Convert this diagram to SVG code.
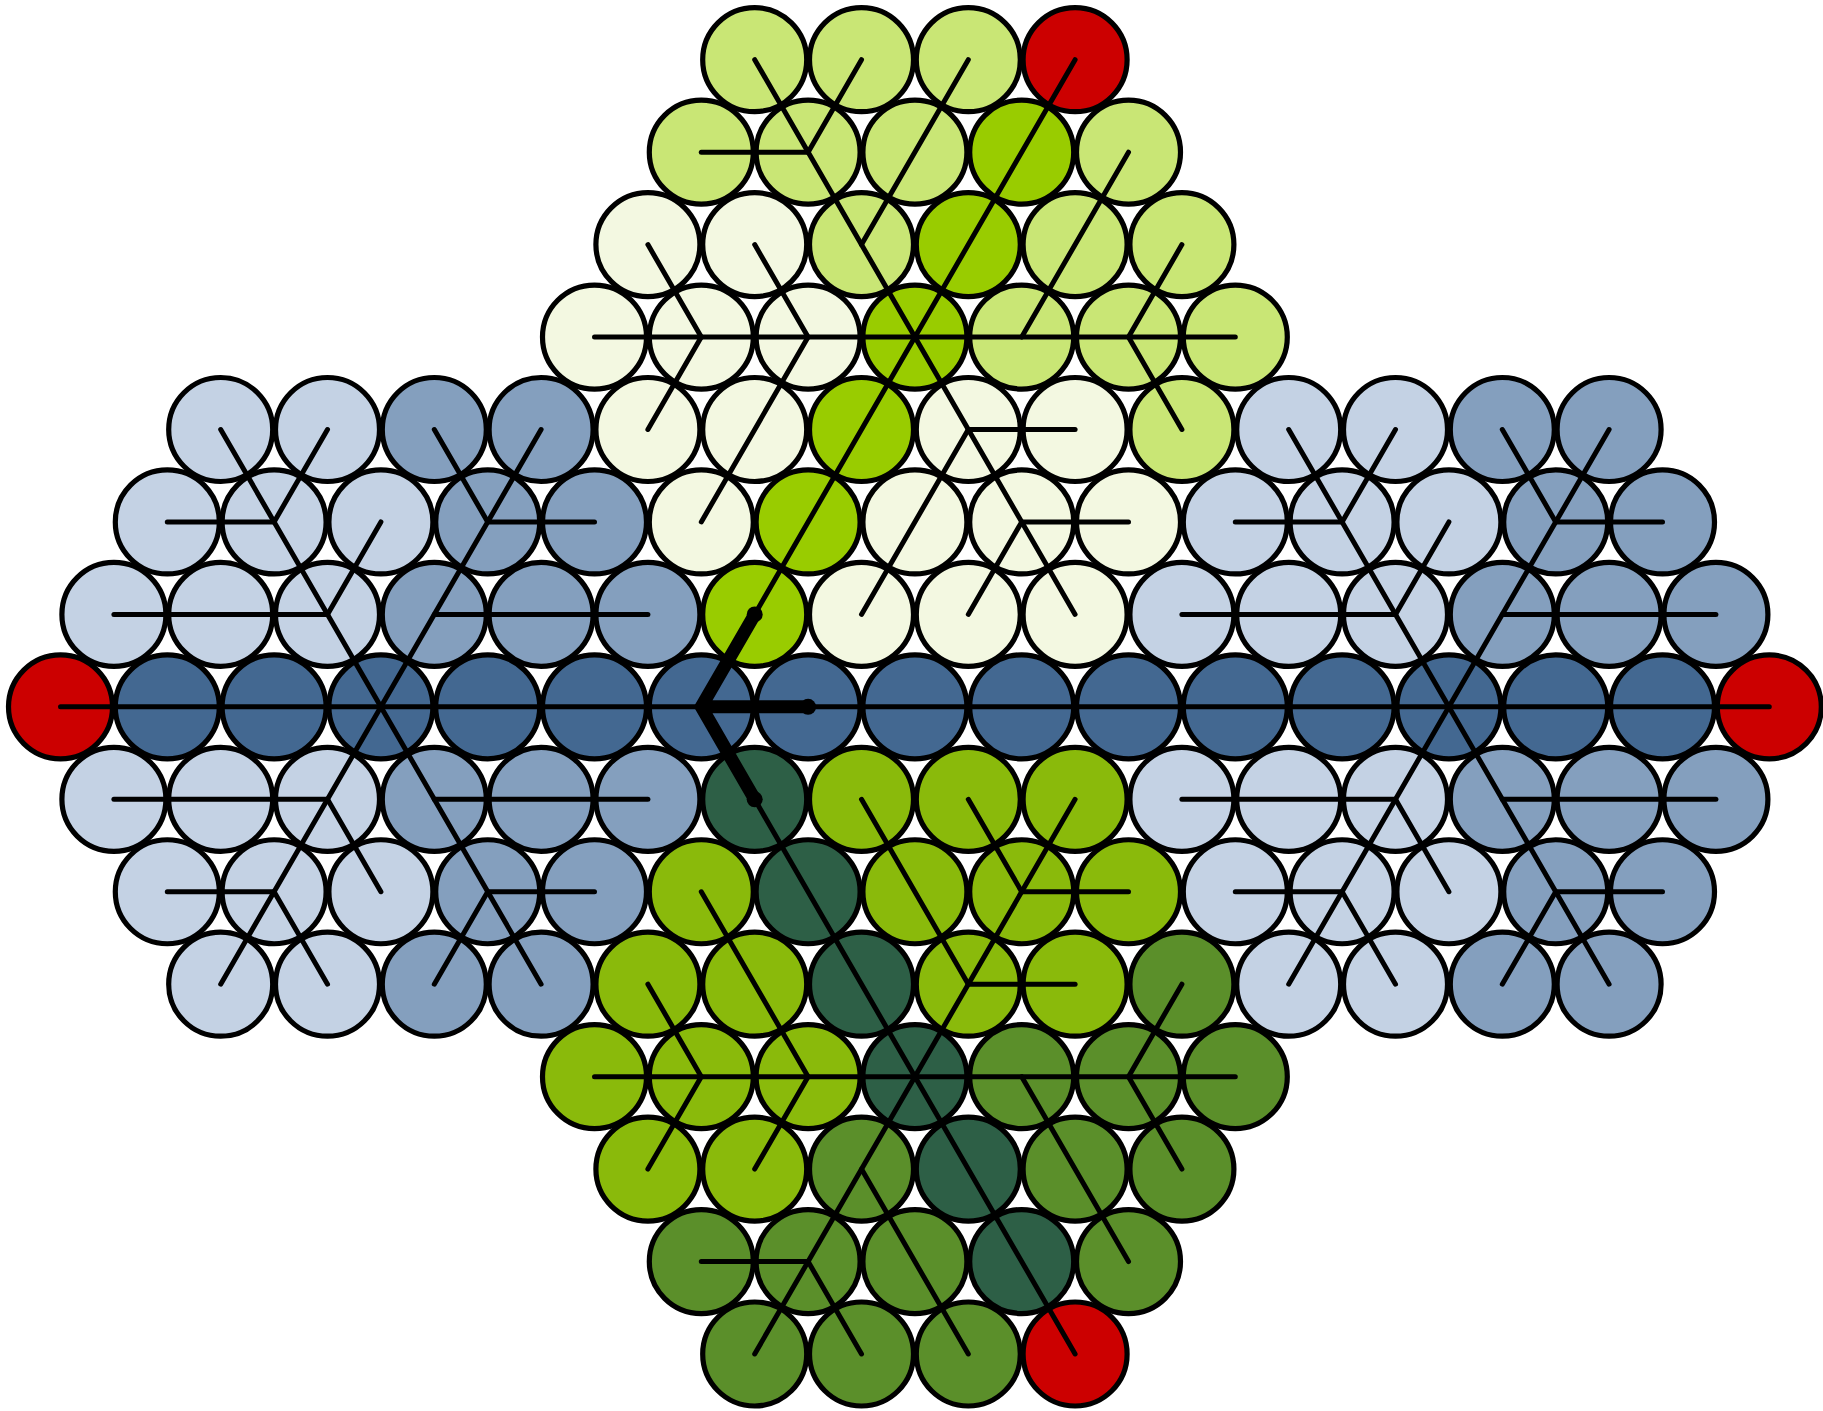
<svg xmlns="http://www.w3.org/2000/svg" width="1823" height="1411" viewBox="0 0 1823 1411">
<style>
.nodes circle{stroke:#000;stroke-width:5.2}
.red{fill:#cc0000}.lg{fill:#c9e675}.bg{fill:#99cc00}.pg{fill:#f3f8e1}
.yg{fill:#8aba0b}.og{fill:#5b8f2a}.dg{fill:#2d5f46}
.lb{fill:#c4d2e4}.mb{fill:#849fbe}.db{fill:#436891}
.conn line{stroke:#000;stroke-width:5;stroke-linecap:round}
.thick{fill:none;stroke:#000;stroke-width:13;stroke-linecap:round;stroke-linejoin:miter}
</style>
<rect width="1823" height="1411" fill="#fff"/>
<g class="nodes">
<!-- top hexagon -->
<g id="t13-0"><circle class="lg" cx="754.7" cy="59.7" r="52"/></g>
<g id="t15-0"><circle class="lg" cx="861.5" cy="59.7" r="52"/></g>
<g id="t17-0"><circle class="lg" cx="968.3" cy="59.7" r="52"/></g>
<g id="t19-0"><circle class="red" cx="1075.1" cy="59.7" r="52"/></g>
<g id="t12-1"><circle class="lg" cx="701.3" cy="152.15" r="52"/></g>
<g id="t14-1"><circle class="lg" cx="808.1" cy="152.15" r="52"/></g>
<g id="t16-1"><circle class="lg" cx="914.9" cy="152.15" r="52"/></g>
<g id="t18-1"><circle class="bg" cx="1021.7" cy="152.15" r="52"/></g>
<g id="t20-1"><circle class="lg" cx="1128.5" cy="152.15" r="52"/></g>
<g id="t11-2"><circle class="pg" cx="647.9" cy="244.6" r="52"/></g>
<g id="t13-2"><circle class="pg" cx="754.7" cy="244.6" r="52"/></g>
<g id="t15-2"><circle class="lg" cx="861.5" cy="244.6" r="52"/></g>
<g id="t17-2"><circle class="bg" cx="968.3" cy="244.6" r="52"/></g>
<g id="t19-2"><circle class="lg" cx="1075.1" cy="244.6" r="52"/></g>
<g id="t21-2"><circle class="lg" cx="1181.9" cy="244.6" r="52"/></g>
<g id="t10-3"><circle class="pg" cx="594.5" cy="337.05" r="52"/></g>
<g id="t12-3"><circle class="pg" cx="701.3" cy="337.05" r="52"/></g>
<g id="t14-3"><circle class="pg" cx="808.1" cy="337.05" r="52"/></g>
<g id="t16-3"><circle class="bg" cx="914.9" cy="337.05" r="52"/></g>
<g id="t18-3"><circle class="lg" cx="1021.7" cy="337.05" r="52"/></g>
<g id="t20-3"><circle class="lg" cx="1128.5" cy="337.05" r="52"/></g>
<g id="t22-3"><circle class="lg" cx="1235.3" cy="337.05" r="52"/></g>
<g id="t11-4"><circle class="pg" cx="647.9" cy="429.5" r="52"/></g>
<g id="t13-4"><circle class="pg" cx="754.7" cy="429.5" r="52"/></g>
<g id="t15-4"><circle class="bg" cx="861.5" cy="429.5" r="52"/></g>
<g id="t17-4"><circle class="pg" cx="968.3" cy="429.5" r="52"/></g>
<g id="t19-4"><circle class="pg" cx="1075.1" cy="429.5" r="52"/></g>
<g id="t21-4"><circle class="lg" cx="1181.9" cy="429.5" r="52"/></g>
<g id="t12-5"><circle class="pg" cx="701.3" cy="521.95" r="52"/></g>
<g id="t14-5"><circle class="bg" cx="808.1" cy="521.95" r="52"/></g>
<g id="t16-5"><circle class="pg" cx="914.9" cy="521.95" r="52"/></g>
<g id="t18-5"><circle class="pg" cx="1021.7" cy="521.95" r="52"/></g>
<g id="t20-5"><circle class="pg" cx="1128.5" cy="521.95" r="52"/></g>
<g id="t13-6"><circle class="bg" cx="754.7" cy="614.4" r="52"/></g>
<g id="t15-6"><circle class="pg" cx="861.5" cy="614.4" r="52"/></g>
<g id="t17-6"><circle class="pg" cx="968.3" cy="614.4" r="52"/></g>
<g id="t19-6"><circle class="pg" cx="1075.1" cy="614.4" r="52"/></g>
<!-- bottom hexagon -->
<g id="b13-8"><circle class="dg" cx="754.7" cy="799.3" r="52"/></g>
<g id="b15-8"><circle class="yg" cx="861.5" cy="799.3" r="52"/></g>
<g id="b17-8"><circle class="yg" cx="968.3" cy="799.3" r="52"/></g>
<g id="b19-8"><circle class="yg" cx="1075.1" cy="799.3" r="52"/></g>
<g id="b12-9"><circle class="yg" cx="701.3" cy="891.75" r="52"/></g>
<g id="b14-9"><circle class="dg" cx="808.1" cy="891.75" r="52"/></g>
<g id="b16-9"><circle class="yg" cx="914.9" cy="891.75" r="52"/></g>
<g id="b18-9"><circle class="yg" cx="1021.7" cy="891.75" r="52"/></g>
<g id="b20-9"><circle class="yg" cx="1128.5" cy="891.75" r="52"/></g>
<g id="b11-10"><circle class="yg" cx="647.9" cy="984.2" r="52"/></g>
<g id="b13-10"><circle class="yg" cx="754.7" cy="984.2" r="52"/></g>
<g id="b15-10"><circle class="dg" cx="861.5" cy="984.2" r="52"/></g>
<g id="b17-10"><circle class="yg" cx="968.3" cy="984.2" r="52"/></g>
<g id="b19-10"><circle class="yg" cx="1075.1" cy="984.2" r="52"/></g>
<g id="b21-10"><circle class="og" cx="1181.9" cy="984.2" r="52"/></g>
<g id="b10-11"><circle class="yg" cx="594.5" cy="1076.65" r="52"/></g>
<g id="b12-11"><circle class="yg" cx="701.3" cy="1076.65" r="52"/></g>
<g id="b14-11"><circle class="yg" cx="808.1" cy="1076.65" r="52"/></g>
<g id="b16-11"><circle class="dg" cx="914.9" cy="1076.65" r="52"/></g>
<g id="b18-11"><circle class="og" cx="1021.7" cy="1076.65" r="52"/></g>
<g id="b20-11"><circle class="og" cx="1128.5" cy="1076.65" r="52"/></g>
<g id="b22-11"><circle class="og" cx="1235.3" cy="1076.65" r="52"/></g>
<g id="b11-12"><circle class="yg" cx="647.9" cy="1169.1" r="52"/></g>
<g id="b13-12"><circle class="yg" cx="754.7" cy="1169.1" r="52"/></g>
<g id="b15-12"><circle class="og" cx="861.5" cy="1169.1" r="52"/></g>
<g id="b17-12"><circle class="dg" cx="968.3" cy="1169.1" r="52"/></g>
<g id="b19-12"><circle class="og" cx="1075.1" cy="1169.1" r="52"/></g>
<g id="b21-12"><circle class="og" cx="1181.9" cy="1169.1" r="52"/></g>
<g id="b12-13"><circle class="og" cx="701.3" cy="1261.55" r="52"/></g>
<g id="b14-13"><circle class="og" cx="808.1" cy="1261.55" r="52"/></g>
<g id="b16-13"><circle class="og" cx="914.9" cy="1261.55" r="52"/></g>
<g id="b18-13"><circle class="dg" cx="1021.7" cy="1261.55" r="52"/></g>
<g id="b20-13"><circle class="og" cx="1128.5" cy="1261.55" r="52"/></g>
<g id="b13-14"><circle class="og" cx="754.7" cy="1354" r="52"/></g>
<g id="b15-14"><circle class="og" cx="861.5" cy="1354" r="52"/></g>
<g id="b17-14"><circle class="og" cx="968.3" cy="1354" r="52"/></g>
<g id="b19-14"><circle class="red" cx="1075.1" cy="1354" r="52"/></g>
<!-- left hexagon -->
<g id="l3-4"><circle class="lb" cx="220.7" cy="429.5" r="52"/></g>
<g id="l5-4"><circle class="lb" cx="327.5" cy="429.5" r="52"/></g>
<g id="l7-4"><circle class="mb" cx="434.3" cy="429.5" r="52"/></g>
<g id="l9-4"><circle class="mb" cx="541.1" cy="429.5" r="52"/></g>
<g id="l2-5"><circle class="lb" cx="167.3" cy="521.95" r="52"/></g>
<g id="l4-5"><circle class="lb" cx="274.1" cy="521.95" r="52"/></g>
<g id="l6-5"><circle class="lb" cx="380.9" cy="521.95" r="52"/></g>
<g id="l8-5"><circle class="mb" cx="487.7" cy="521.95" r="52"/></g>
<g id="l10-5"><circle class="mb" cx="594.5" cy="521.95" r="52"/></g>
<g id="l1-6"><circle class="lb" cx="113.9" cy="614.4" r="52"/></g>
<g id="l3-6"><circle class="lb" cx="220.7" cy="614.4" r="52"/></g>
<g id="l5-6"><circle class="lb" cx="327.5" cy="614.4" r="52"/></g>
<g id="l7-6"><circle class="mb" cx="434.3" cy="614.4" r="52"/></g>
<g id="l9-6"><circle class="mb" cx="541.1" cy="614.4" r="52"/></g>
<g id="l11-6"><circle class="mb" cx="647.9" cy="614.4" r="52"/></g>
<g id="l0-7"><circle class="red" cx="60.5" cy="706.85" r="52"/></g>
<g id="l2-7"><circle class="db" cx="167.3" cy="706.85" r="52"/></g>
<g id="l4-7"><circle class="db" cx="274.1" cy="706.85" r="52"/></g>
<g id="l6-7"><circle class="db" cx="380.9" cy="706.85" r="52"/></g>
<g id="l8-7"><circle class="db" cx="487.7" cy="706.85" r="52"/></g>
<g id="l10-7"><circle class="db" cx="594.5" cy="706.85" r="52"/></g>
<g id="l12-7"><circle class="db" cx="701.3" cy="706.85" r="52"/></g>
<g id="l1-8"><circle class="lb" cx="113.9" cy="799.3" r="52"/></g>
<g id="l3-8"><circle class="lb" cx="220.7" cy="799.3" r="52"/></g>
<g id="l5-8"><circle class="lb" cx="327.5" cy="799.3" r="52"/></g>
<g id="l7-8"><circle class="mb" cx="434.3" cy="799.3" r="52"/></g>
<g id="l9-8"><circle class="mb" cx="541.1" cy="799.3" r="52"/></g>
<g id="l11-8"><circle class="mb" cx="647.9" cy="799.3" r="52"/></g>
<g id="l2-9"><circle class="lb" cx="167.3" cy="891.75" r="52"/></g>
<g id="l4-9"><circle class="lb" cx="274.1" cy="891.75" r="52"/></g>
<g id="l6-9"><circle class="lb" cx="380.9" cy="891.75" r="52"/></g>
<g id="l8-9"><circle class="mb" cx="487.7" cy="891.75" r="52"/></g>
<g id="l10-9"><circle class="mb" cx="594.5" cy="891.75" r="52"/></g>
<g id="l3-10"><circle class="lb" cx="220.7" cy="984.2" r="52"/></g>
<g id="l5-10"><circle class="lb" cx="327.5" cy="984.2" r="52"/></g>
<g id="l7-10"><circle class="mb" cx="434.3" cy="984.2" r="52"/></g>
<g id="l9-10"><circle class="mb" cx="541.1" cy="984.2" r="52"/></g>
<!-- middle row -->
<g id="m14-7"><circle class="db" cx="808.1" cy="706.85" r="52"/></g>
<g id="m16-7"><circle class="db" cx="914.9" cy="706.85" r="52"/></g>
<g id="m18-7"><circle class="db" cx="1021.7" cy="706.85" r="52"/></g>
<!-- right hexagon -->
<g id="r23-4"><circle class="lb" cx="1288.7" cy="429.5" r="52"/></g>
<g id="r25-4"><circle class="lb" cx="1395.5" cy="429.5" r="52"/></g>
<g id="r27-4"><circle class="mb" cx="1502.3" cy="429.5" r="52"/></g>
<g id="r29-4"><circle class="mb" cx="1609.1" cy="429.5" r="52"/></g>
<g id="r22-5"><circle class="lb" cx="1235.3" cy="521.95" r="52"/></g>
<g id="r24-5"><circle class="lb" cx="1342.1" cy="521.95" r="52"/></g>
<g id="r26-5"><circle class="lb" cx="1448.9" cy="521.95" r="52"/></g>
<g id="r28-5"><circle class="mb" cx="1555.7" cy="521.95" r="52"/></g>
<g id="r30-5"><circle class="mb" cx="1662.5" cy="521.95" r="52"/></g>
<g id="r21-6"><circle class="lb" cx="1181.9" cy="614.4" r="52"/></g>
<g id="r23-6"><circle class="lb" cx="1288.7" cy="614.4" r="52"/></g>
<g id="r25-6"><circle class="lb" cx="1395.5" cy="614.4" r="52"/></g>
<g id="r27-6"><circle class="mb" cx="1502.3" cy="614.4" r="52"/></g>
<g id="r29-6"><circle class="mb" cx="1609.1" cy="614.4" r="52"/></g>
<g id="r31-6"><circle class="mb" cx="1715.9" cy="614.4" r="52"/></g>
<g id="r20-7"><circle class="db" cx="1128.5" cy="706.85" r="52"/></g>
<g id="r22-7"><circle class="db" cx="1235.3" cy="706.85" r="52"/></g>
<g id="r24-7"><circle class="db" cx="1342.1" cy="706.85" r="52"/></g>
<g id="r26-7"><circle class="db" cx="1448.9" cy="706.85" r="52"/></g>
<g id="r28-7"><circle class="db" cx="1555.7" cy="706.85" r="52"/></g>
<g id="r30-7"><circle class="db" cx="1662.5" cy="706.85" r="52"/></g>
<g id="r32-7"><circle class="red" cx="1769.3" cy="706.85" r="52"/></g>
<g id="r21-8"><circle class="lb" cx="1181.9" cy="799.3" r="52"/></g>
<g id="r23-8"><circle class="lb" cx="1288.7" cy="799.3" r="52"/></g>
<g id="r25-8"><circle class="lb" cx="1395.5" cy="799.3" r="52"/></g>
<g id="r27-8"><circle class="mb" cx="1502.3" cy="799.3" r="52"/></g>
<g id="r29-8"><circle class="mb" cx="1609.1" cy="799.3" r="52"/></g>
<g id="r31-8"><circle class="mb" cx="1715.9" cy="799.3" r="52"/></g>
<g id="r22-9"><circle class="lb" cx="1235.3" cy="891.75" r="52"/></g>
<g id="r24-9"><circle class="lb" cx="1342.1" cy="891.75" r="52"/></g>
<g id="r26-9"><circle class="lb" cx="1448.9" cy="891.75" r="52"/></g>
<g id="r28-9"><circle class="mb" cx="1555.7" cy="891.75" r="52"/></g>
<g id="r30-9"><circle class="mb" cx="1662.5" cy="891.75" r="52"/></g>
<g id="r23-10"><circle class="lb" cx="1288.7" cy="984.2" r="52"/></g>
<g id="r25-10"><circle class="lb" cx="1395.5" cy="984.2" r="52"/></g>
<g id="r27-10"><circle class="mb" cx="1502.3" cy="984.2" r="52"/></g>
<g id="r29-10"><circle class="mb" cx="1609.1" cy="984.2" r="52"/></g>
</g>
<g id="connectors" class="conn">
<!-- top -->
<line x1="754.7" y1="59.7" x2="914.9" y2="337.05"/>
<line x1="861.5" y1="59.7" x2="808.1" y2="152.15"/>
<line x1="701.3" y1="152.15" x2="808.1" y2="152.15"/>
<line x1="968.3" y1="59.7" x2="861.5" y2="244.6"/>
<line x1="1075.1" y1="59.7" x2="754.7" y2="614.4"/>
<line x1="1128.5" y1="152.15" x2="1021.7" y2="337.05"/>
<line x1="1181.9" y1="244.6" x2="1128.5" y2="337.05"/>
<line x1="594.5" y1="337.05" x2="1235.3" y2="337.05"/>
<line x1="1128.5" y1="337.05" x2="1181.9" y2="429.5"/>
<line x1="647.9" y1="244.6" x2="701.3" y2="337.05"/>
<line x1="754.7" y1="244.6" x2="808.1" y2="337.05"/>
<line x1="701.3" y1="337.05" x2="647.9" y2="429.5"/>
<line x1="808.1" y1="337.05" x2="701.3" y2="521.95"/>
<line x1="914.9" y1="337.05" x2="1075.1" y2="614.4"/>
<line x1="968.3" y1="429.5" x2="1075.1" y2="429.5"/>
<line x1="1021.7" y1="521.95" x2="1128.5" y2="521.95"/>
<line x1="1021.7" y1="521.95" x2="968.3" y2="614.4"/>
<line x1="968.3" y1="429.5" x2="861.5" y2="614.4"/>
<!-- bottom -->
<line x1="754.7" y1="1354" x2="914.9" y2="1076.65"/>
<line x1="861.5" y1="1354" x2="808.1" y2="1261.55"/>
<line x1="701.3" y1="1261.55" x2="808.1" y2="1261.55"/>
<line x1="968.3" y1="1354" x2="861.5" y2="1169.1"/>
<line x1="1075.1" y1="1354" x2="754.7" y2="799.3"/>
<line x1="1128.5" y1="1261.55" x2="1021.7" y2="1076.65"/>
<line x1="1181.9" y1="1169.1" x2="1128.5" y2="1076.65"/>
<line x1="594.5" y1="1076.65" x2="1235.3" y2="1076.65"/>
<line x1="1128.5" y1="1076.65" x2="1181.9" y2="984.2"/>
<line x1="647.9" y1="1169.1" x2="701.3" y2="1076.65"/>
<line x1="754.7" y1="1169.1" x2="808.1" y2="1076.65"/>
<line x1="701.3" y1="1076.65" x2="647.9" y2="984.2"/>
<line x1="808.1" y1="1076.65" x2="701.3" y2="891.75"/>
<line x1="914.9" y1="1076.65" x2="1075.1" y2="799.3"/>
<line x1="968.3" y1="984.2" x2="1075.1" y2="984.2"/>
<line x1="1021.7" y1="891.75" x2="1128.5" y2="891.75"/>
<line x1="1021.7" y1="891.75" x2="968.3" y2="799.3"/>
<line x1="968.3" y1="984.2" x2="861.5" y2="799.3"/>
<!-- left -->
<line x1="220.7" y1="429.5" x2="541.1" y2="984.2"/>
<line x1="541.1" y1="429.5" x2="220.7" y2="984.2"/>
<line x1="327.5" y1="429.5" x2="274.1" y2="521.95"/>
<line x1="167.3" y1="521.95" x2="274.1" y2="521.95"/>
<line x1="380.9" y1="521.95" x2="327.5" y2="614.4"/>
<line x1="113.9" y1="614.4" x2="327.5" y2="614.4"/>
<line x1="434.3" y1="429.5" x2="487.7" y2="521.95"/>
<line x1="487.7" y1="521.95" x2="594.5" y2="521.95"/>
<line x1="434.3" y1="614.4" x2="647.9" y2="614.4"/>
<line x1="113.9" y1="799.3" x2="327.5" y2="799.3"/>
<line x1="327.5" y1="799.3" x2="380.9" y2="891.75"/>
<line x1="167.3" y1="891.75" x2="274.1" y2="891.75"/>
<line x1="274.1" y1="891.75" x2="327.5" y2="984.2"/>
<line x1="434.3" y1="799.3" x2="647.9" y2="799.3"/>
<line x1="487.7" y1="891.75" x2="594.5" y2="891.75"/>
<line x1="487.7" y1="891.75" x2="434.3" y2="984.2"/>
<!-- right -->
<line x1="1288.7" y1="429.5" x2="1609.1" y2="984.2"/>
<line x1="1609.1" y1="429.5" x2="1288.7" y2="984.2"/>
<line x1="1395.5" y1="429.5" x2="1342.1" y2="521.95"/>
<line x1="1235.3" y1="521.95" x2="1342.1" y2="521.95"/>
<line x1="1448.9" y1="521.95" x2="1395.5" y2="614.4"/>
<line x1="1181.9" y1="614.4" x2="1395.5" y2="614.4"/>
<line x1="1502.3" y1="429.5" x2="1555.7" y2="521.95"/>
<line x1="1555.7" y1="521.95" x2="1662.5" y2="521.95"/>
<line x1="1502.3" y1="614.4" x2="1715.9" y2="614.4"/>
<line x1="1181.9" y1="799.3" x2="1395.5" y2="799.3"/>
<line x1="1395.5" y1="799.3" x2="1448.9" y2="891.75"/>
<line x1="1235.3" y1="891.75" x2="1342.1" y2="891.75"/>
<line x1="1342.1" y1="891.75" x2="1395.5" y2="984.2"/>
<line x1="1502.3" y1="799.3" x2="1715.9" y2="799.3"/>
<line x1="1555.7" y1="891.75" x2="1662.5" y2="891.75"/>
<line x1="1555.7" y1="891.75" x2="1502.3" y2="984.2"/>
<!-- middle row -->
<line x1="60.5" y1="706.85" x2="1769.3" y2="706.85"/>
<!-- central thick marker -->
<path class="thick" d="M754.7,614.4 L701.3,706.85 L754.7,799.3 M701.3,706.85 L808.1,706.85"/>
<circle cx="754.7" cy="614.4" r="8" fill="#000"/>
<circle cx="808.1" cy="706.85" r="8" fill="#000"/>
<circle cx="754.7" cy="799.3" r="8" fill="#000"/>
</g>
</svg>
